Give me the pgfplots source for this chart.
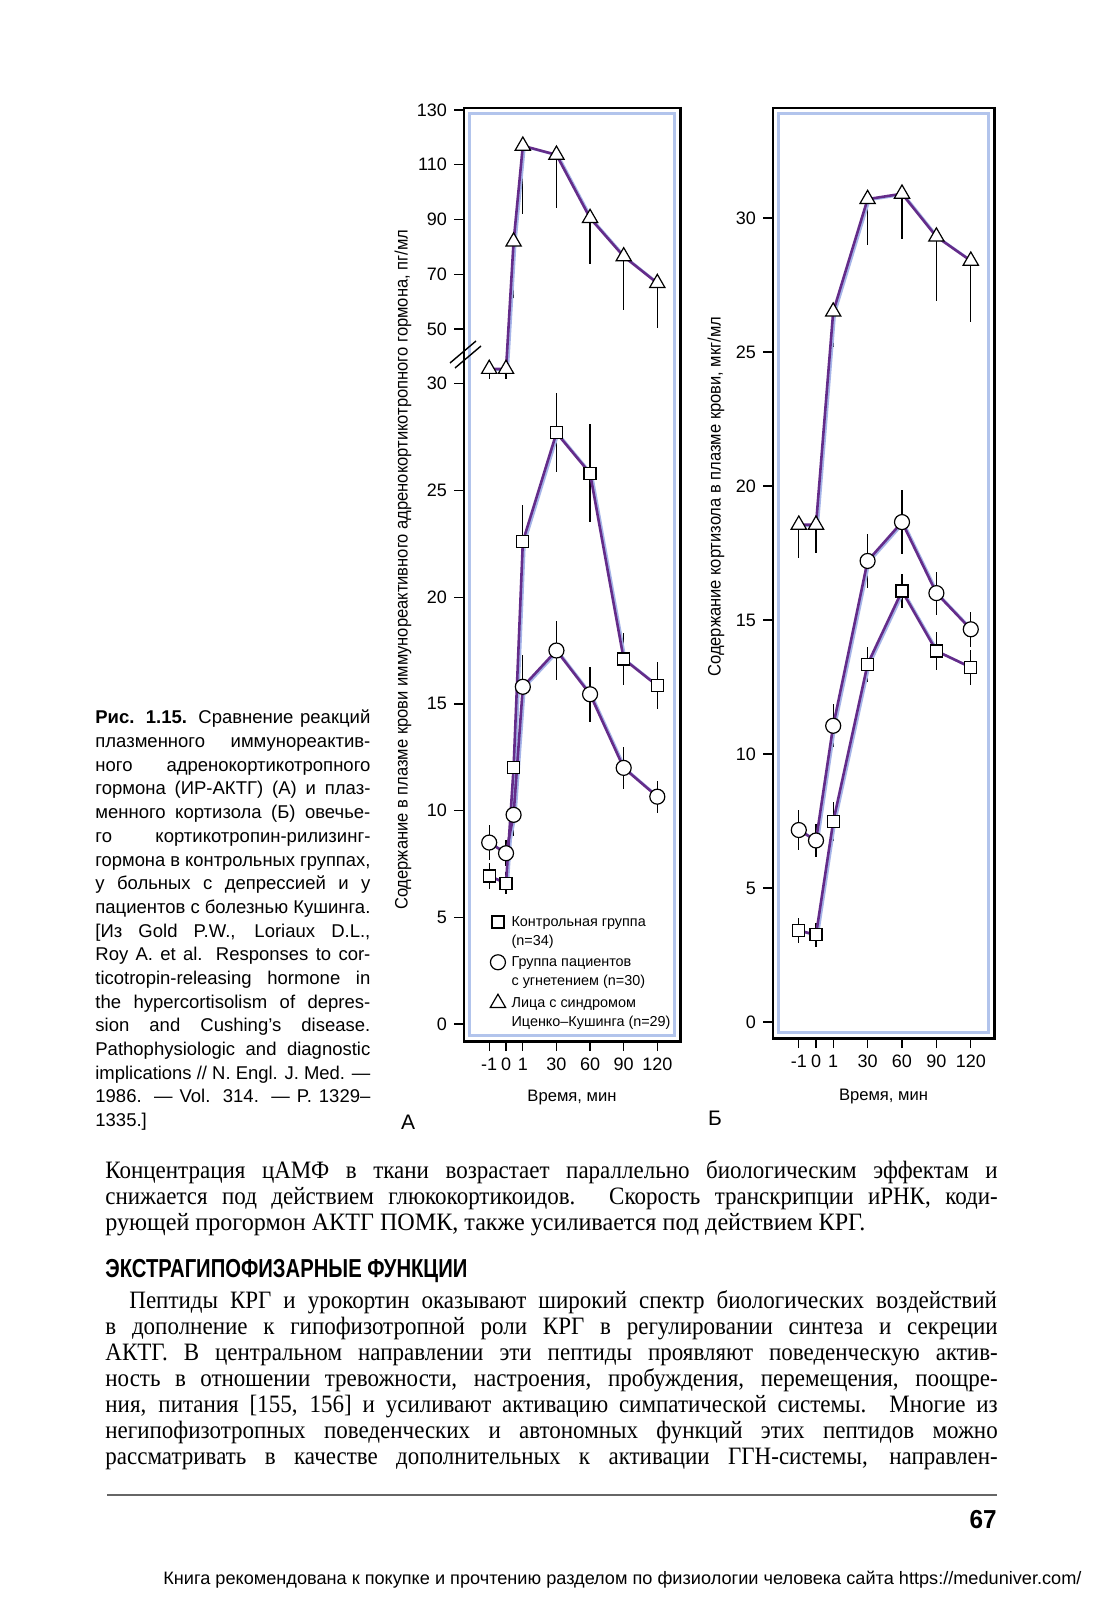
\documentclass[border=0pt]{standalone}
\usepackage{fontspec}
\setmainfont{Liberation Serif}
\setsansfont{Liberation Sans}
\usepackage{graphicx}
\usepackage{pgfplots}
\usepackage{pgfplotstable}
\pgfplotsset{compat=1.18}

\definecolor{lineP}{RGB}{100,44,138}
\definecolor{halo}{RGB}{165,180,232}
\definecolor{frameB}{RGB}{178,196,236}

\newlength\px \setlength\px{0.5pt}
\newlength\jw
% one justified line: stretch spaces, or squeeze if too long
\newcommand\jline[2]{\settowidth\jw{#2}\ifdim\jw>#1\relax\resizebox{#1}{\height}{#2}\else\makebox[#1][s]{#2}\fi}
\newcommand\capfont{\sffamily\fontsize{9.25}{11}\selectfont}
\newcommand\bodyfont{\rmfamily\fontsize{12.5}{15}\selectfont}
\newcommand\capl[2]{\node[anchor=base west,inner sep=0pt,font=\capfont] at (95,#1) {\jline{275\px}{#2}};}
% body line: condensed face (x 0.92), width given before condensing
\newcommand\bodl[4]{\node[anchor=base west,inner sep=0pt,font=\bodyfont] at (#1,#2) {\scalebox{0.92}[1]{\jline{#3\px}{#4}}};}

% panel A: x = position (-1,0,1,30,60,90,120 at 0,1,2,4,6,8,10), y, error
\pgfplotstableread{
x y e
0 6.93 0.6
1 6.6 0.5
1.45 12.0 1.0
2 22.6 1.7
4 27.7 1.85
6 25.8 2.3
8 17.1 1.2
10 15.85 1.1
}\Asq
\pgfplotstableread{
x y e
0 8.5 0.8
1 8.0 0.6
1.45 9.8 1.0
2 15.8 1.5
4 17.5 1.4
6 15.45 1.3
8 12.0 1.0
10 10.65 0.75
}\Aci
\pgfplotstableread{
x y lo
0 35.4 31.8
1 35.4 31.8
1.45 81.9 61.3
2 116.9 91.9
4 113.6 94.1
6 90.5 73.8
8 76.5 57.0
10 66.75 50.35
}\Atr
% panel B
\pgfplotstableread{
x y e
0 3.41 0.45
1 3.25 0.45
2 7.47 0.72
4 13.35 0.65
6 16.08 0.65
8 13.84 0.7
10 13.23 0.65
}\Bsq
\pgfplotstableread{
x y e
0 7.16 0.75
1 6.77 0.6
2 11.05 0.8
4 17.2 1.0
6 18.65 1.2
8 16.0 0.8
10 14.65 0.65
}\Bci
\pgfplotstableread{
x y e
0 18.55 1.25
1 18.55 1.05
2 26.5 1.3
4 30.7 1.7
6 30.9 1.7
8 29.3 2.4
10 28.4 2.3
}\Btr

\pgfplotsset{
  panel/.style={
    scale only axis, anchor=south west, clip=false,
    axis line style={line width=1.4pt},
    tick align=outside, xtick pos=left, ytick pos=left,
    major tick length=5pt,
    tick style={black, line width=0.65pt},
    xtick={0,1,2,4,6,8,10}, xticklabels={-1,0,1,30,60,90,120},
    tick label style={font=\sffamily\fontsize{9}{11}\selectfont},
    xlabel={Время, мин},
    label style={font=\sffamily\fontsize{8.3}{10}\selectfont},
    /pgf/number format/assume math mode=true,
  },
  ser/.style={lineP, line width=1.3pt, forget plot,
    mark options={solid, fill=white, draw=black, line width=0.6pt}},
  bars/.style={black, forget plot, only marks, mark=none,
    error bars/y dir=both, error bars/y explicit, error bars/error mark=none,
    error bars/error bar style={black, line width=0.6pt}},
  tbar/.style={black, line width=0.6pt, no marks, forget plot},
  shade/.style={halo, line width=1.2pt, no marks, forget plot, xshift=0.9pt, yshift=-0.4pt},
  sq/.style={mark=square*, mark size=3pt},
  ci/.style={mark=*, mark size=3.75pt},
  tr/.style={mark=triangle*, mark size=4.4pt},
}

\begin{document}
\begin{tikzpicture}
\begin{scope}[x=0.5pt,y=-0.5pt]
  \fill[white] (0,0) rectangle (1114,1600);
  \draw[frameB, line width=1.1pt] (469.5,113.5) rectangle (674.5,1035.5);
  \draw[frameB, line width=1.1pt] (778.5,113.5) rectangle (988.5,1032.5);
  % heavier right and bottom edges of the frames
  \draw[black, line width=0.7pt] (681.6,107) -- (681.6,1042.6) -- (463,1042.6);
  \draw[black, line width=0.7pt] (995.6,107) -- (995.6,1039.6) -- (772,1039.6);
\end{scope}

% panel A
\begin{axis}[panel, at={(232pt,-520.5pt)}, width=108pt, height=466.5pt,
  xmin=-1.5, xmax=11.35, ymin=-0.8, ymax=130.7,
  y coord trafo/.code={\pgfmathparse{min(#1,30)+0.12834*max(#1-30,0)}},
  y coord inv trafo/.code={\pgfmathparse{min(#1,30)+max(#1-30,0)/0.12834}},
  ytick={0,5,10,15,20,25,30,50,70,90,110,130},
  yticklabels={0,5,10,15,20,25,30,50,70,90,110,130},
  ylabel={\resizebox{680\px}{\height}{\fontsize{9}{11}\selectfont Содержание в плазме крови иммунореактивного адренокортикотропного гормона, пг/мл}},
  ylabel style={at={(axis description cs:-0.282,0.505)}, anchor=center},
  xlabel style={at={(axis description cs:0.5,-0.061)}, anchor=center},
  legend image code/.code={\draw[#1] plot coordinates {(0pt,2pt)};},
  legend style={at={(axis description cs:0.12,0.1383)}, anchor=north west,
    draw=none, fill=none, inner sep=0pt, row sep=11.8pt,
    font=\sffamily\fontsize{7.2}{9.75}\selectfont,
    nodes={inner sep=0pt}, cells={anchor=base west},
    /tikz/every odd column/.append style={column sep=3pt}},
]
\addlegendimage{only marks, mark=square, mark size=3pt, black, line width=0.6pt}
\addlegendentry{\begin{tabular}[t]{@{}l@{}}Контрольная группа\\(n=34)\end{tabular}}
\addlegendimage{only marks, mark=o, mark size=3.75pt, black, line width=0.6pt}
\addlegendentry{\begin{tabular}[t]{@{}l@{}}Группа пациентов\\с угнетением (n=30)\end{tabular}}
\addlegendimage{only marks, mark=triangle, mark size=4.4pt, black, line width=0.6pt}
\addlegendentry{\begin{tabular}[t]{@{}l@{}}Лица с синдромом\\Иценко–Кушинга (n=29)\end{tabular}}

% error bars of the triangles (downward only)
\addplot[tbar] coordinates {(0,35.4) (0,31.8)};
\addplot[tbar] coordinates {(1,35.4) (1,31.8)};
\addplot[tbar] coordinates {(1.45,81.9) (1.45,61.3)};
\addplot[tbar] coordinates {(2,116.9) (2,91.9)};
\addplot[tbar] coordinates {(4,113.6) (4,94.1)};
\addplot[tbar] coordinates {(6,90.5) (6,73.8)};
\addplot[tbar] coordinates {(8,76.5) (8,57.0)};
\addplot[tbar] coordinates {(10,66.75) (10,50.35)};
\addplot[bars] table[x=x,y=y,y error=e] {\Asq};
\addplot[bars] table[x=x,y=y,y error=e] {\Aci};

\addplot[shade] table[x=x,y=y] {\Atr};
\addplot[shade] table[x=x,y=y] {\Asq};
\addplot[shade] table[x=x,y=y] {\Aci};
\addplot[ser, tr] table[x=x,y=y] {\Atr};
\addplot[ser, sq] table[x=x,y=y] {\Asq};
\addplot[ser, ci] table[x=x,y=y] {\Aci};
\end{axis}

% panel B
\begin{axis}[panel, at={(386.5pt,-519pt)}, width=110.5pt, height=465pt,
  xmin=-1.5, xmax=11.35, ymin=-0.6, ymax=34.1,
  ytick={0,5,...,30}, yticklabels={0,5,10,15,20,25,30},
  ylabel={\resizebox{360\px}{\height}{\fontsize{9}{11}\selectfont Содержание кортизола в плазме крови, мкг/мл}},
  ylabel style={at={(axis description cs:-0.258,0.582)}, anchor=center},
  xlabel style={at={(axis description cs:0.5,-0.0634)}, anchor=center},
]
\addplot[bars, error bars/y dir=minus] table[x=x,y=y,y error=e] {\Btr};
\addplot[bars] table[x=x,y=y,y error=e] {\Bsq};
\addplot[bars] table[x=x,y=y,y error=e] {\Bci};
\addplot[shade] table[x=x,y=y] {\Btr};
\addplot[shade] table[x=x,y=y] {\Bsq};
\addplot[shade] table[x=x,y=y] {\Bci};
\addplot[ser, tr] table[x=x,y=y] {\Btr};
\addplot[ser, sq] table[x=x,y=y] {\Bsq};
\addplot[ser, ci] table[x=x,y=y] {\Bci};
\end{axis}

\begin{scope}[x=0.5pt,y=-0.5pt]
  % axis break
  \draw[black, line width=0.7pt] (450,363) -- (476,341);
  \draw[black, line width=0.7pt] (455,368) -- (481,346);
  \node[font=\sffamily\fontsize{10.5}{12}\selectfont] at (408,1122) {А};
  \node[font=\sffamily\fontsize{10.5}{12}\selectfont] at (715,1118) {Б};
  % caption
  \capl{723}{{\bfseries Рис. 1.15.} Сравнение реакций}
  \capl{747}{плазменного иммунореактив-}
  \capl{771}{ного адренокортикотропного}
  \capl{794}{гормона (ИР-АКТГ) (А) и плаз-}
  \capl{818}{менного кортизола (Б) овечье-}
  \capl{842}{го кортикотропин-рилизинг-}
  \capl{866}{гормона в контрольных группах,}
  \capl{889}{у больных с депрессией и у}
  \capl{913}{пациентов с болезнью Кушинга.}
  \capl{937}{[Из Gold P.W., Loriaux D.L.,}
  \capl{960}{Roy A. et al. Responses to cor-}
  \capl{984}{ticotropin-releasing hormone in}
  \capl{1008}{the hypercortisolism of depres-}
  \capl{1031}{sion and Cushing’s disease.}
  \capl{1055}{Pathophysiologic and diagnostic}
  \capl{1079}{implications // N. Engl. J. Med. —}
  \capl{1102}{1986. — Vol. 314. — P. 1329–}
  \node[anchor=base west,inner sep=0pt,font=\capfont] at (95,1126) {1335.]};
  % body
  \bodl{105}{1178}{970}{Концентрация цАМФ в ткани возрастает параллельно биологическим эффектам и}
  \bodl{105}{1204}{970}{снижается под действием глюкокортикоидов. Скорость транскрипции иРНК, коди-}
  \node[anchor=base west,inner sep=0pt,font=\bodyfont] at (105,1230) {\resizebox{760\px}{\height}{рующей прогормон АКТГ ПОМК, также усиливается под действием КРГ.}};
  \node[anchor=base west,inner sep=0pt] at (105,1277) {\resizebox{362\px}{\height}{\sffamily\bfseries\fontsize{13}{15}\selectfont ЭКСТРАГИПОФИЗАРНЫЕ ФУНКЦИИ}};
  \bodl{129}{1308}{943}{Пептиды КРГ и урокортин оказывают широкий спектр биологических воздействий}
  \bodl{105}{1334}{970}{в дополнение к гипофизотропной роли КРГ в регулировании синтеза и секреции}
  \bodl{105}{1360}{970}{АКТГ. В центральном направлении эти пептиды проявляют поведенческую актив-}
  \bodl{105}{1386}{970}{ность в отношении тревожности, настроения, пробуждения, перемещения, поощре-}
  \bodl{105}{1412}{970}{ния, питания [155, 156] и усиливают активацию симпатической системы. Многие из}
  \bodl{105}{1438}{970}{негипофизотропных поведенческих и автономных функций этих пептидов можно}
  \bodl{105}{1464}{970}{рассматривать в качестве дополнительных к активации ГГН-системы, направлен-}
  \draw[black!60, line width=0.9pt] (107,1495) -- (997,1495);
  \node[anchor=base east,inner sep=0pt] at (997,1528) {\resizebox{27\px}{\height}{\sffamily\bfseries\fontsize{13}{15}\selectfont 67}};
  \node[anchor=base west,inner sep=0pt] at (163,1584) {\resizebox{918\px}{\height}{\sffamily\fontsize{9}{11}\selectfont Книга рекомендована к покупке и прочтению разделом по физиологии человека сайта https://meduniver.com/}};
\end{scope}
\end{tikzpicture}
\end{document}
